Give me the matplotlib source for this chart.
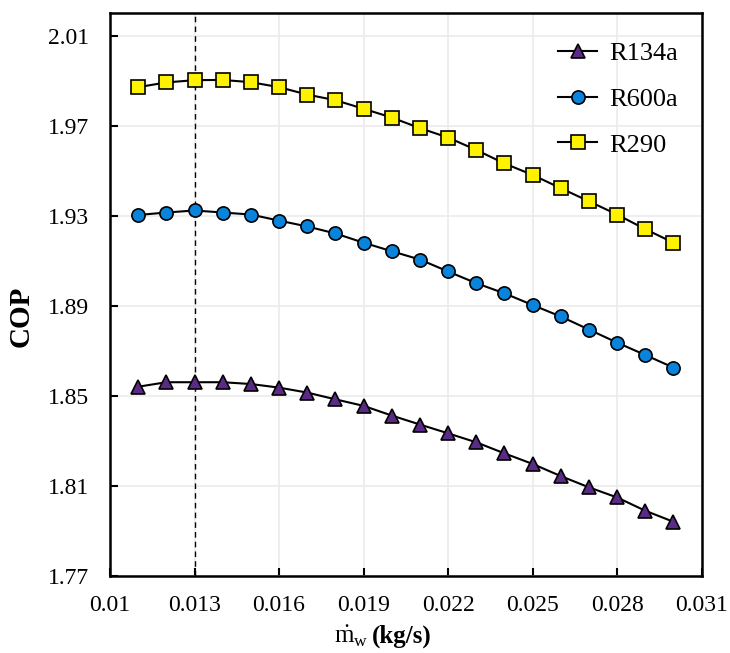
import matplotlib
matplotlib.use('Agg')
import matplotlib.pyplot as plt

plt.rcParams['font.family'] = ['Liberation Serif', 'DejaVu Serif']
plt.rcParams['mathtext.fontset'] = 'custom'
plt.rcParams['mathtext.rm'] = 'Liberation Serif'
plt.rcParams['mathtext.it'] = 'Liberation Serif:italic'

# Data
m_w = [0.011, 0.012, 0.013, 0.014, 0.015, 0.016, 0.017, 0.018, 0.019, 0.020,
       0.021, 0.022, 0.023, 0.024, 0.025, 0.026, 0.027, 0.028, 0.029, 0.030]
cop_r134a = [1.8541, 1.8561, 1.8561, 1.8561, 1.8553, 1.8537, 1.8515, 1.8485, 1.8456, 1.8413,
             1.8373, 1.8334, 1.8294, 1.8245, 1.8198, 1.8144, 1.8094, 1.8049, 1.7990, 1.7941]
cop_r600a = [1.9304, 1.9315, 1.9324, 1.9315, 1.9306, 1.9279, 1.9253, 1.9222, 1.9181, 1.9143,
             1.9106, 1.9053, 1.9001, 1.8956, 1.8904, 1.8853, 1.8795, 1.8737, 1.8682, 1.8626]
cop_r290 = [1.9872, 1.9893, 1.9903, 1.9904, 1.9894, 1.9872, 1.9839, 1.9814, 1.9776, 1.9737,
            1.9690, 1.9648, 1.9593, 1.9533, 1.9482, 1.9423, 1.9365, 1.9306, 1.9241, 1.9181]
x_ticks = [0.010, 0.013, 0.016, 0.019, 0.022, 0.025, 0.028, 0.031]
x_labels = ['0.01', '0.013', '0.016', '0.019', '0.022', '0.025', '0.028', '0.031']
y_ticks = [1.77, 1.81, 1.85, 1.89, 1.93, 1.97, 2.01]
optimum_mw = 0.013

fig = plt.figure(figsize=(7.3, 6.53), dpi=100)
ax = fig.add_axes([0.1507, 0.1179, 0.8104, 0.8617])

ax.axvline(optimum_mw, color='black', lw=1, ls=(0, (4, 3)), zorder=2)

ax.plot(m_w, cop_r134a, '-^', color='black', lw=1.5, markersize=10.5,
        markerfacecolor='#5B2A86', markeredgecolor='black', markeredgewidth=1.2,
        label='R134a', zorder=3)
ax.plot(m_w, cop_r600a, '-o', color='black', lw=1.5, markersize=9.5,
        markerfacecolor='#0A84DA', markeredgecolor='black', markeredgewidth=1.2,
        label='R600a', zorder=3)
ax.plot(m_w, cop_r290, '-s', color='black', lw=1.5, markersize=9.5,
        markerfacecolor='#FFF200', markeredgecolor='black', markeredgewidth=1.2,
        label='R290', zorder=3)

ax.set_xlim(0.010, 0.031)
ax.set_ylim(1.77, 2.02)
ax.set_xticks(x_ticks)
ax.set_xticklabels(x_labels)
ax.set_yticks(y_ticks)
ax.set_yticklabels([f'{v:.2f}' for v in y_ticks])
ax.tick_params(axis='both', direction='in', length=6, width=1.5, labelsize=17)
ax.tick_params(axis='y', pad=15)
ax.tick_params(axis='x', pad=14)
ax.grid(True, color='#ebebeb', lw=1.2, zorder=0)
ax.set_axisbelow(True)
for s in ax.spines.values():
    s.set_linewidth(1.8)

ax.set_ylabel('COP', fontsize=21, fontweight='bold')
ax.yaxis.set_label_coords(-0.127, 0.462)

# x label in two pieces: m-dot with subscript (mathtext) + bold unit
fig.text(368 / 730, 0.0153, r'$\dot{\mathrm{m}}_{\mathrm{w}}$', fontsize=18,
         ha='right', va='baseline')
fig.text(372 / 730, 0.0153, '(kg/s)', fontsize=18, fontweight='bold',
         family='Liberation Serif', ha='left', va='baseline')

ax.legend(loc='upper left', bbox_to_anchor=(0.757, 0.950), frameon=False,
          fontsize=19, handlelength=1.5, handletextpad=0.45, labelspacing=0.85,
          borderpad=0, borderaxespad=0)

plt.savefig('out.png', dpi=100)
plt.close()
